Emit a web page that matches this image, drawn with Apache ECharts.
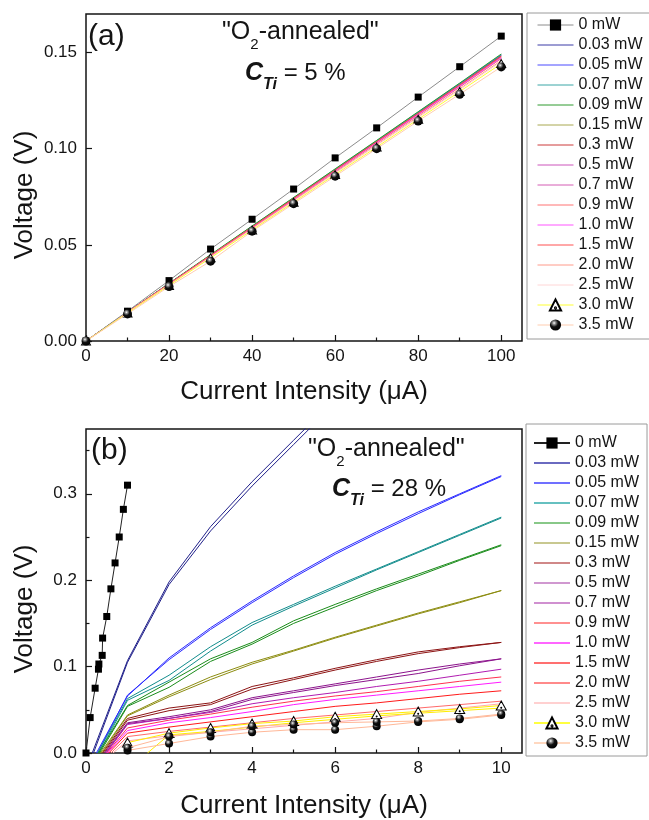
<!DOCTYPE html>
<html>
<head>
<meta charset="utf-8">
<script src="https://cdn.jsdelivr.net/npm/echarts@6/dist/echarts.min.js"></script>
<style>
  html, body { margin: 0; padding: 0; background: #fff; }
  #chart { width: 649px; height: 820px; }
</style>
</head>
<body>
<div id="chart"></div>
<script>
// ---------- labels ----------
const powers = ['0 mW', '0.03 mW', '0.05 mW', '0.07 mW', '0.09 mW', '0.15 mW', '0.3 mW',
  '0.5 mW', '0.7 mW', '0.9 mW', '1.0 mW', '1.5 mW', '2.0 mW', '2.5 mW', '3.0 mW', '3.5 mW'];
// entries drawn with a marker in the legend
const markedPowers = ['0 mW', '3.0 mW', '3.5 mW'];

// ---------- panel (a): C_Ti = 5 % ----------
const aCurrent = [0, 10, 20, 30, 40, 50, 60, 70, 80, 90, 100];
const aV_0   = [0, 0.0155, 0.0314, 0.0478, 0.0633, 0.0790, 0.0952, 0.1108, 0.1268, 0.1426, 0.1585];
const aV_003 = [0, 0.0150, 0.0298, 0.0445, 0.0594, 0.0741, 0.0890, 0.1038, 0.1187, 0.1336, 0.1485];
const aV_005 = [0, 0.0150, 0.0298, 0.0446, 0.0595, 0.0742, 0.0891, 0.1039, 0.1188, 0.1337, 0.1486];
const aV_007 = [0, 0.0150, 0.0299, 0.0447, 0.0596, 0.0744, 0.0893, 0.1041, 0.1190, 0.1339, 0.1489];
const aV_009 = [0, 0.0151, 0.0300, 0.0449, 0.0598, 0.0746, 0.0895, 0.1043, 0.1192, 0.1341, 0.1492];
const aV_015 = [0, 0.0150, 0.0297, 0.0444, 0.0592, 0.0739, 0.0887, 0.1034, 0.1182, 0.1330, 0.1480];
const aV_03  = [0, 0.0150, 0.0297, 0.0444, 0.0592, 0.0740, 0.0887, 0.1035, 0.1183, 0.1331, 0.1481];
const aV_05  = [0, 0.0149, 0.0296, 0.0443, 0.0590, 0.0737, 0.0884, 0.1031, 0.1178, 0.1325, 0.1473];
const aV_07  = [0, 0.0149, 0.0295, 0.0442, 0.0588, 0.0735, 0.0882, 0.1029, 0.1176, 0.1322, 0.1470];
const aV_09  = [0, 0.0149, 0.0295, 0.0441, 0.0587, 0.0734, 0.0880, 0.1027, 0.1173, 0.1320, 0.1468];
const aV_10  = [0, 0.0149, 0.0296, 0.0443, 0.0590, 0.0737, 0.0884, 0.1031, 0.1177, 0.1324, 0.1472];
const aV_15  = [0, 0.0150, 0.0297, 0.0445, 0.0592, 0.0740, 0.0888, 0.1036, 0.1183, 0.1331, 0.1479];
const aV_20  = [0, 0.0148, 0.0293, 0.0438, 0.0584, 0.0729, 0.0875, 0.1020, 0.1166, 0.1311, 0.1458];
const aV_25  = [0, 0.0147, 0.0291, 0.0436, 0.0581, 0.0726, 0.0871, 0.1016, 0.1161, 0.1306, 0.1452];
const aV_30  = [0, 0.0146, 0.0289, 0.0432, 0.0577, 0.0721, 0.0865, 0.1008, 0.1153, 0.1297, 0.1442];
const aV_35  = [0, 0.0141, 0.0283, 0.0415, 0.0571, 0.0714, 0.0857, 0.1000, 0.1144, 0.1283, 0.1425];
const aValues = [aV_0, aV_003, aV_005, aV_007, aV_009, aV_015, aV_03, aV_05, aV_07, aV_09,
  aV_10, aV_15, aV_20, aV_25, aV_30, aV_35];

const aTicksX = [0, 20, 40, 60, 80, 100];
const aMinorX = [10, 30, 50, 70, 90];
const aTicksY = [0, 0.05, 0.10, 0.15];

// ---------- panel (b): C_Ti = 28 % ----------
// 0 mW sweep (current, voltage)
const bI_0 = [0, 0.1, 0.22, 0.3, 0.31, 0.39, 0.4, 0.5, 0.6, 0.7, 0.8, 0.9, 1.0];
const bV_0 = [0, 0.041, 0.075, 0.097, 0.103, 0.113, 0.133, 0.158, 0.190, 0.220, 0.250, 0.282, 0.310];

const bCurrent = [1, 2, 3, 4, 5, 6, 7, 8, 9, 10];
// current where each illuminated curve leaves zero voltage (0.03 ... 2.5 mW)
const bOnset = [0.15, 0.25, 0.28, 0.30, 0.35, 0.40, 0.45, 0.48, 0.50, 0.52, 0.55, 0.60, 0.65];

const bV_003  = [0.107, 0.198, 0.262, 0.314, 0.362, 0.410];
const bV_003b = [0.105, 0.195, 0.257, 0.309, 0.357, 0.405];
const bV_005  = [0.066, 0.110, 0.145, 0.176, 0.205, 0.232, 0.256, 0.279, 0.300, 0.321];
const bV_005b = [0.067, 0.108, 0.143, 0.174, 0.203, 0.230, 0.254, 0.277, 0.299, 0.320];
const bV_007  = [0.063, 0.090, 0.123, 0.151, 0.172, 0.193, 0.213, 0.233, 0.253, 0.273];
const bV_007b = [0.061, 0.084, 0.118, 0.148, 0.170, 0.191, 0.212, 0.232, 0.252, 0.272];
const bV_009  = [0.055, 0.082, 0.109, 0.128, 0.153, 0.172, 0.190, 0.207, 0.224, 0.241];
const bV_009b = [0.054, 0.076, 0.106, 0.126, 0.150, 0.169, 0.188, 0.205, 0.223, 0.240];
const bV_015  = [0.044, 0.067, 0.088, 0.105, 0.119, 0.134, 0.148, 0.162, 0.175, 0.188];
const bV_015b = [0.043, 0.065, 0.085, 0.103, 0.118, 0.133, 0.147, 0.161, 0.174, 0.188];
const bV_03   = [0.040, 0.052, 0.058, 0.077, 0.087, 0.098, 0.108, 0.117, 0.123, 0.128];
const bV_03b  = [0.038, 0.049, 0.056, 0.074, 0.085, 0.096, 0.106, 0.115, 0.122, 0.128];
const bV_05   = [0.035, 0.042, 0.050, 0.064, 0.072, 0.080, 0.088, 0.096, 0.103, 0.109];
const bV_05b  = [0.034, 0.040, 0.048, 0.062, 0.070, 0.078, 0.085, 0.092, 0.101, 0.109];
const bV_07   = [0.033, 0.040, 0.047, 0.057, 0.064, 0.070, 0.077, 0.083, 0.090, 0.097];
const bV_09   = [0.029, 0.038, 0.045, 0.053, 0.060, 0.066, 0.071, 0.077, 0.083, 0.088];
const bV_10   = [0.026, 0.035, 0.041, 0.048, 0.056, 0.062, 0.067, 0.072, 0.077, 0.082];
const bV_15   = [0.023, 0.030, 0.036, 0.042, 0.048, 0.054, 0.058, 0.063, 0.068, 0.072];
const bV_20   = [0.019, 0.025, 0.030, 0.035, 0.040, 0.044, 0.048, 0.052, 0.056, 0.060];
const bV_25   = [0.014, 0.020, 0.024, 0.028, 0.032, 0.036, 0.040, 0.047, 0.052, 0.057];
// 3.0 mW: marked sweep and second sweep starting at 1.48 µA
const bV_30   = [0.012, 0.023, 0.029, 0.034, 0.037, 0.042, 0.045, 0.048, 0.051, 0.055];
const bI_30b  = [1.48, 2, 3, 4, 5, 6, 7, 8, 9, 10];
const bV_30b  = [0, 0.021, 0.025, 0.030, 0.035, 0.039, 0.043, 0.046, 0.049, 0.052];
// 3.5 mW: two marked sweeps
const bV_35   = [0.006, 0.019, 0.024, 0.031, 0.033, 0.035, 0.036, 0.037, 0.040, 0.045];
const bV_35b  = [0.003, 0.011, 0.019, 0.024, 0.027, 0.027, 0.031, 0.036, 0.039, 0.044];

const bLines  = [bV_003, bV_005, bV_007, bV_009, bV_015, bV_03, bV_05, bV_07, bV_09, bV_10, bV_15, bV_20, bV_25];
const bLinesB = [bV_003b, bV_005b, bV_007b, bV_009b, bV_015b, bV_03b, bV_05b, null, null, null, null, null, null];

const bTicksX = [0, 2, 4, 6, 8, 10];
const bMinorX = [1, 3, 5, 7, 9];
const bTicksY = [0, 0.1, 0.2, 0.3];
const bMinorY = [0.05, 0.15, 0.25, 0.35];

// ---------- styles ----------
const FONT = 'Liberation Sans, Arial, sans-serif';
const INK = '#141414';
const aColors = ['#8c8c8c', '#3a3aa6', '#4b4bff', '#3aa6a6', '#2e9a2e', '#a8a850', '#cc3a3a',
  '#cc55bb', '#d45cb4', '#ff7373', '#ff55ff', '#ff5050', '#ff9a8a', '#ffd6d6', '#ffff33', '#ffcdb0'];
const bColors = ['#222222', '#20208a', '#2a2aff', '#128c8c', '#1a8c1a', '#8c8c10', '#8c1414',
  '#8c148c', '#b01cb0', '#ff3050', '#ff1aff', '#ff1a1a', '#ff6a6a', '#ffaaaa', '#ffee00', '#ffb898'];
const bLegendColors = ['#222222', '#6a6ac0', '#7070ff', '#66c0c0', '#88c888', '#c8c890', '#d08888',
  '#d098d0', '#d090d0', '#ff9090', '#ff66ff', '#ff7070', '#ff8a8a', '#ffd0d0', '#ffff40', '#ffd8c0'];

const ballFill = {
  type: 'radial', x: 0.38, y: 0.32, r: 0.7,
  colorStops: [
    { offset: 0, color: '#ffffff' }, { offset: 0.18, color: '#9a9a9a' },
    { offset: 0.5, color: '#111111' }, { offset: 1, color: '#000000' }
  ]
};
const triPath = 'path://M10,0 L20,17.3 L0,17.3 Z M10,12.1 A1,1 0 1 1 9.98,12.1 Z';

function lineSeries(name, data, color, xi, yi, extra) {
  return Object.assign({
    type: 'line', name: name, data: data, xAxisIndex: xi, yAxisIndex: yi,
    symbol: 'none', showSymbol: false, silent: true, animation: false,
    lineStyle: { width: 1, color: color }, itemStyle: { color: color },
    z: 2
  }, extra || {});
}
function squareMarks(size) {
  return { symbol: 'rect', showSymbol: true, symbolSize: size, itemStyle: { color: '#000' }, z: 4 };
}
function triangleMarks(size) {
  return { symbol: triPath, showSymbol: true, symbolSize: size,
    itemStyle: { color: '#fff', borderColor: '#000', borderWidth: 1 }, z: 4 };
}
function ballMarks(size) {
  return { symbol: 'circle', showSymbol: true, symbolSize: size, itemStyle: { color: ballFill }, z: 5 };
}

const series = [];
// panel (a)
aValues.forEach(function (vals, i) {
  const data = aCurrent.map(function (x, k) { return [x, vals[k]]; });
  let extra = null;
  if (i === 0) extra = squareMarks(7);
  if (i === 14) extra = triangleMarks([9, 8]);
  if (i === 15) extra = ballMarks(9);
  series.push(lineSeries(powers[i], data, aColors[i], 0, 0, extra));
});
// panel (b)
series.push(lineSeries(powers[0], bI_0.map(function (x, k) { return [x, bV_0[k]]; }),
  bColors[0], 2, 1, squareMarks(7)));
bLines.forEach(function (vals, j) {
  const i = j + 1;
  const data = [[bOnset[j], 0]].concat(vals.map(function (v, k) { return [bCurrent[k], v]; }));
  series.push(lineSeries(powers[i], data, bColors[i], 2, 1));
  const second = bLinesB[j];
  if (second) {
    const d2 = [[bOnset[j] + 0.03, 0]].concat(second.map(function (v, k) { return [bCurrent[k], v]; }));
    series.push(lineSeries(powers[i], d2, bColors[i], 2, 1));
  }
});
series.push(lineSeries(powers[14], bI_30b.map(function (x, k) { return [x, bV_30b[k]]; }), bColors[14], 2, 1));
series.push(lineSeries(powers[14], bCurrent.map(function (x, k) { return [x, bV_30[k]]; }),
  bColors[14], 2, 1, triangleMarks([10, 9])));
series.push(lineSeries(powers[15], bCurrent.map(function (x, k) { return [x, bV_35b[k]]; }),
  bColors[15], 2, 1, ballMarks(8)));
series.push(lineSeries(powers[15], bCurrent.map(function (x, k) { return [x, bV_35[k]]; }),
  bColors[15], 2, 1, ballMarks(8)));

function majorAxis(grid, min, max, ticks, fmt, margin, extra) {
  return Object.assign({
    type: 'value', gridIndex: grid, min: min, max: max,
    axisLine: { show: false },
    axisTick: { show: true, inside: true, length: 6, customValues: ticks, lineStyle: { color: INK, width: 1.2 } },
    axisLabel: { customValues: ticks, formatter: fmt, fontSize: 17, color: INK, fontFamily: FONT, margin: margin },
    splitLine: { show: false }
  }, extra || {});
}
function minorAxis(grid, min, max, ticks, extra) {
  return Object.assign({
    type: 'value', gridIndex: grid, min: min, max: max,
    axisLine: { show: false },
    axisTick: { show: true, inside: true, length: 3.5, customValues: ticks, lineStyle: { color: INK, width: 1.2 } },
    axisLabel: { show: false },
    splitLine: { show: false }
  }, extra || {});
}
const fmtInt = function (v) { return String(v); };
const fmt2 = function (v) { return v.toFixed(2); };
const fmt1 = function (v) { return v.toFixed(1); };

function legendFor(top, left, padding, colors, width) {
  return {
    orient: 'vertical', left: left, top: top, padding: padding,
    itemWidth: 36, itemHeight: 14, itemGap: 4,
    borderColor: '#9a9a9a', borderWidth: 1, backgroundColor: '#fff',
    selectedMode: false,
    textStyle: { fontSize: 16, color: INK, fontFamily: FONT },
    data: powers.map(function (p, i) {
      const item = { name: p, lineStyle: { color: colors[i], width: width } };
      if (markedPowers.indexOf(p) < 0) item.itemStyle = { opacity: 0 };
      return item;
    })
  };
}

const richTitle = {
  q: { fontSize: 25, lineHeight: 40, fontFamily: FONT, fill: INK },
  s: { fontSize: 15, lineHeight: 15, verticalAlign: 'bottom', fontFamily: FONT, fill: INK },
  c: { fontSize: 25, lineHeight: 40, fontFamily: FONT, fontWeight: 'bold', fontStyle: 'italic', fill: INK },
  t: { fontSize: 16, lineHeight: 15, verticalAlign: 'bottom', fontFamily: FONT, fontWeight: 'bold', fontStyle: 'italic', fill: INK },
  e: { fontSize: 24, lineHeight: 40, fontFamily: FONT, fill: INK }
};
function richText(x, y, text) {
  return { type: 'text', x: x, y: y, silent: true,
    style: { text: text, rich: richTitle, fill: INK, align: 'left', verticalAlign: 'top' } };
}
function plainText(x, y, text, size, rotation) {
  return { type: 'text', x: x, y: y, rotation: rotation || 0, silent: true,
    style: { text: text, fontSize: size, fontFamily: FONT, fill: INK,
      align: rotation ? 'center' : 'left', verticalAlign: rotation ? 'middle' : 'top' } };
}

const option = {
  backgroundColor: '#fff',
  animation: false,
  grid: [
    { left: 86, top: 14, width: 436, height: 327, show: true, borderColor: INK, borderWidth: 1.5, backgroundColor: 'transparent' },
    { left: 86, top: 429, width: 436, height: 326, show: true, borderColor: INK, borderWidth: 1.5, backgroundColor: 'transparent' }
  ],
  xAxis: [
    majorAxis(0, 0, 105, aTicksX, fmtInt, 7, { position: 'bottom', name: 'Current Intensity (μA)',
      nameLocation: 'middle', nameGap: 38, nameTextStyle: { fontSize: 26, color: INK, fontFamily: FONT } }),
    minorAxis(0, 0, 105, aMinorX, { position: 'bottom' }),
    majorAxis(1, 0, 10.5, bTicksX, fmtInt, 7, { position: 'bottom', name: 'Current Intensity (μA)',
      nameLocation: 'middle', nameGap: 40, nameTextStyle: { fontSize: 26, color: INK, fontFamily: FONT } }),
    minorAxis(1, 0, 10.5, bMinorX, { position: 'bottom' })
  ],
  yAxis: [
    majorAxis(0, 0, 0.17, aTicksY, fmt2, 9, { position: 'left' }),
    majorAxis(1, 0, 0.375, bTicksY, fmt1, 9, { position: 'left' }),
    minorAxis(1, 0, 0.375, bMinorY, { position: 'left' })
  ],
  legend: [
    legendFor(13, 527, [4, 10, 6, 10], aColors, 1),
    legendFor(424, 526, [11, 8, 5, 7], bLegendColors, 2)
  ],
  graphic: [
    plainText(25, 195, 'Voltage (V)', 26, Math.PI / 2),
    plainText(25, 609, 'Voltage (V)', 26, Math.PI / 2),
    plainText(88, 22, '(a)', 30),
    richText(222, 12, '{q|"O}{s|2}{q|-annealed"}'),
    richText(245, 53, '{c|C}{t|Ti}{e| = 5 %}'),
    plainText(91, 436, '(b)', 30),
    richText(308, 429, '{q|"O}{s|2}{q|-annealed"}'),
    richText(332, 469, '{c|C}{t|Ti}{e| = 28 %}')
  ],
  series: series
};

const chart = echarts.init(document.getElementById('chart'), null, { renderer: 'canvas' });
chart.setOption(option);
</script>
</body>
</html>
